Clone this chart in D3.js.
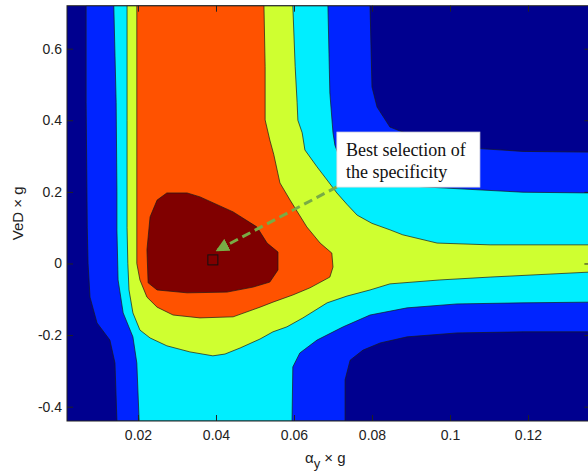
<!DOCTYPE html>
<html>
<head>
<meta charset="utf-8">
<script src="https://cdn.jsdelivr.net/npm/d3@7"></script>
<style>
  body { margin: 0; background: #fff; }
  svg { display: block; }
</style>
</head>
<body>
<svg id="chart"></svg>
<script>
// tick values and labels
const xTicks = [0.02, 0.04, 0.06, 0.08, 0.1, 0.12];
const xTickLabels = ["0.02", "0.04", "0.06", "0.08", "0.1", "0.12"];
const yTicks = [-0.4, -0.2, 0, 0.2, 0.4, 0.6];
const yTickLabels = ["-0.4", "-0.2", "0", "0.2", "0.4", "0.6"];

// filled contour levels, low -> high (jet colormap)
const levelColors = ["#00008f", "#0024ff", "#00eeff", "#cfff30", "#ff5200", "#800000"];

// region boundaries [alpha_y*g, VeD*g], one per level above the lowest
const blueRegion = [
  [0.0067, 0.72], [0.0067, 0.45], [0.0070, 0.10], [0.0072, 0.0], [0.0077, -0.094], [0.0095, -0.166],
  [0.0128, -0.214], [0.0141, -0.278], [0.0146, -0.44], [0.0731, -0.44], [0.0731, -0.325],
  [0.0744, -0.270], [0.0777, -0.242], [0.0821, -0.222], [0.0890, -0.205], [0.1018, -0.194],
  [0.1187, -0.191], [0.136, -0.191], [0.136, 0.311], [0.1187, 0.313], [0.1018, 0.325],
  [0.0931, 0.345], [0.0846, 0.381], [0.0813, 0.437], [0.0800, 0.493], [0.0795, 0.72]
];
const cyanRegion = [
  [0.0138, 0.72], [0.0144, 0.45], [0.0146, 0.20], [0.0146, 0.094], [0.0149, -0.046], [0.0162, -0.138],
  [0.0187, -0.205], [0.0197, -0.278], [0.0203, -0.44], [0.0595, -0.44], [0.0597, -0.289],
  [0.0615, -0.250], [0.0659, -0.214], [0.0726, -0.177], [0.0795, -0.144], [0.0890, -0.124],
  [0.1018, -0.113], [0.1187, -0.110], [0.136, -0.108], [0.136, 0.197], [0.1187, 0.199],
  [0.0931, 0.214], [0.0846, 0.222], [0.0769, 0.240], [0.0726, 0.270], [0.0705, 0.330],
  [0.0700, 0.365], [0.0692, 0.476], [0.0687, 0.72]
];
const yellowRegion = [
  [0.0172, 0.72], [0.0172, 0.40], [0.0172, 0.10], [0.0174, 0.0], [0.0177, -0.074], [0.0187, -0.138],
  [0.0205, -0.186], [0.0231, -0.208], [0.0274, -0.230], [0.0333, -0.247], [0.0392, -0.258],
  [0.0423, -0.253], [0.0462, -0.236], [0.0513, -0.211], [0.0546, -0.191], [0.0582, -0.177],
  [0.0623, -0.152], [0.0685, -0.110], [0.0736, -0.091], [0.0795, -0.074], [0.0846, -0.057],
  [0.0974, -0.046], [0.1103, -0.038], [0.136, -0.024], [0.136, 0.052], [0.1103, 0.052],
  [0.0967, 0.057], [0.0879, 0.080], [0.0846, 0.094], [0.0800, 0.112], [0.0762, 0.135],
  [0.0736, 0.165], [0.0710, 0.197], [0.0685, 0.233], [0.0659, 0.270], [0.0628, 0.317],
  [0.0621, 0.365], [0.0610, 0.400], [0.0608, 0.45], [0.0603, 0.55], [0.0597, 0.72]
];
const orangeRegion = [
  [0.0197, 0.72], [0.0197, 0.30], [0.0197, 0.0], [0.0205, -0.046], [0.0223, -0.094], [0.0249, -0.122],
  [0.0290, -0.144], [0.0359, -0.152], [0.0444, -0.149], [0.0513, -0.122], [0.0546, -0.108],
  [0.0597, -0.088], [0.0641, -0.068], [0.0692, -0.038], [0.0700, -0.010], [0.0697, 0.029],
  [0.0667, 0.057], [0.0633, 0.102], [0.0590, 0.177], [0.0564, 0.225], [0.0548, 0.305],
  [0.0538, 0.345], [0.0526, 0.401], [0.0526, 0.55], [0.0523, 0.72]
];
const redRegion = [
  [0.0274, 0.197], [0.0326, 0.197], [0.0359, 0.186], [0.0444, 0.144], [0.0505, 0.102],
  [0.0531, 0.057], [0.0559, 0.032], [0.0559, -0.018], [0.0538, -0.052], [0.0495, -0.066],
  [0.0428, -0.080], [0.0326, -0.082], [0.0249, -0.074], [0.0226, -0.054], [0.0223, 0.038],
  [0.0231, 0.130], [0.0249, 0.177]
];
const regions = [blueRegion, cyanRegion, yellowRegion, orangeRegion, redRegion];

// best point and annotation
const bestPoint = [0.0392, 0.010];
const arrowFrom = [0.0710, 0.214];
const arrowTo = [0.0405, 0.038];
const noteAnchor = [0.0710, 0.367];
const noteLines = ["Best selection of", "the specificity"];

var width = 588, height = 471;
var plot = { left: 67, right: 590.4, top: 5.7, bottom: 421 };

var svg = d3.select("#chart")
  .attr("width", width)
  .attr("height", height);

const x = d3.scaleLinear().domain([0.0018, 0.136]).range([plot.left, plot.right]);
const y = d3.scaleLinear().domain([-0.44, 0.72]).range([plot.bottom, plot.top]);

// clip everything to the axes box
svg.append("defs").append("clipPath")
  .attr("id", "clip")
  .append("rect")
  .attr("x", plot.left)
  .attr("y", plot.top)
  .attr("width", plot.right - plot.left)
  .attr("height", plot.bottom - plot.top);

const area = svg.append("g").attr("clip-path", "url(#clip)");

// lowest level fills the background
area.append("rect")
  .attr("x", x(0.0018))
  .attr("y", y(0.72))
  .attr("width", x(0.136) - x(0.0018))
  .attr("height", y(-0.44) - y(0.72))
  .style("fill", levelColors[0]);

const line = d3.line()
  .x(function (d) { return x(d[0]); })
  .y(function (d) { return y(d[1]); });

area.selectAll("path.level")
  .data(regions)
  .join("path")
  .attr("class", "level")
  .attr("d", function (d) { return line(d) + "Z"; })
  .style("fill", function (d, i) { return levelColors[i + 1]; })
  .style("stroke", "#1a1a1a")
  .style("stroke-width", 0.7)
  .style("stroke-linejoin", "round");

// marker at the best selection
area.append("rect")
  .attr("x", x(bestPoint[0]) - 5)
  .attr("y", y(bestPoint[1]) - 5)
  .attr("width", 10)
  .attr("height", 10)
  .style("fill", "none")
  .style("stroke", "#111")
  .style("stroke-width", 1);

// arrow head
svg.select("defs").append("marker")
  .attr("id", "head")
  .attr("viewBox", "0 0 10 10")
  .attr("refX", 8)
  .attr("refY", 5)
  .attr("markerWidth", 4.5)
  .attr("markerHeight", 4.5)
  .attr("markerUnits", "strokeWidth")
  .attr("orient", "auto")
  .append("path")
  .attr("d", "M0,0L10,5L0,10Z")
  .style("fill", "#78ac45");

area.append("line")
  .attr("x1", x(arrowFrom[0]))
  .attr("y1", y(arrowFrom[1]))
  .attr("x2", x(arrowTo[0]))
  .attr("y2", y(arrowTo[1]))
  .style("stroke", "#78ac45")
  .style("stroke-width", 3)
  .style("stroke-dasharray", "9,5")
  .attr("marker-end", "url(#head)");

// annotation box
const note = svg.append("g")
  .attr("transform", "translate(" + x(noteAnchor[0]) + "," + y(noteAnchor[1]) + ")");
note.append("rect")
  .attr("width", 143)
  .attr("height", 55)
  .style("fill", "#fff")
  .style("stroke", "#ddd")
  .style("stroke-width", 0.8);
note.selectAll("text")
  .data(noteLines)
  .join("text")
  .attr("x", 9)
  .attr("y", function (d, i) { return 24 + i * 22; })
  .style("font-family", "'Liberation Serif', 'DejaVu Serif', serif")
  .style("font-size", "18px")
  .style("fill", "#111")
  .text(function (d) { return d; });

// axes: ticks point inwards on all four sides
const axisFont = "'Liberation Sans', Arial, sans-serif";
function styleAxis(g) {
  g.select(".domain").remove();
  g.selectAll(".tick line").style("stroke", "#222");
  g.selectAll(".tick text")
    .style("font-family", axisFont)
    .style("font-size", "14px")
    .style("fill", "#222");
}

svg.append("g")
  .attr("transform", "translate(0," + plot.bottom + ")")
  .call(d3.axisBottom(x).tickValues(xTicks)
    .tickFormat(function (d, i) { return xTickLabels[i]; })
    .tickSizeInner(-6).tickSizeOuter(0).tickPadding(9))
  .call(styleAxis);

svg.append("g")
  .attr("transform", "translate(0," + plot.top + ")")
  .call(d3.axisTop(x).tickValues(xTicks).tickFormat("")
    .tickSizeInner(-6).tickSizeOuter(0))
  .call(styleAxis);

svg.append("g")
  .attr("transform", "translate(" + plot.left + ",0)")
  .call(d3.axisLeft(y).tickValues(yTicks)
    .tickFormat(function (d, i) { return yTickLabels[i]; })
    .tickSizeInner(-6).tickSizeOuter(0).tickPadding(5))
  .call(styleAxis);

svg.append("g")
  .attr("transform", "translate(" + plot.right + ",0)")
  .call(d3.axisRight(y).tickValues(yTicks).tickFormat("")
    .tickSizeInner(-6).tickSizeOuter(0))
  .call(styleAxis);

// axes box
svg.append("rect")
  .attr("x", plot.left)
  .attr("y", plot.top)
  .attr("width", plot.right - plot.left)
  .attr("height", plot.bottom - plot.top)
  .style("fill", "none")
  .style("stroke", "#222")
  .style("stroke-width", 1);

// axis labels
const xLabel = svg.append("text")
  .attr("x", 305)
  .attr("y", 463)
  .style("font-family", axisFont)
  .style("font-size", "15px")
  .style("fill", "#222");
xLabel.append("tspan").text("\u03b1");
xLabel.append("tspan").attr("dy", 5).style("font-size", "13px").text("y");
xLabel.append("tspan").attr("dy", -5).text(" \u00d7 g");

svg.append("text")
  .attr("transform", "translate(23," + ((plot.top + plot.bottom) / 2) + ") rotate(-90)")
  .style("text-anchor", "middle")
  .style("font-family", axisFont)
  .style("font-size", "15px")
  .style("fill", "#222")
  .text("VeD \u00d7 g");
</script>
</body>
</html>
